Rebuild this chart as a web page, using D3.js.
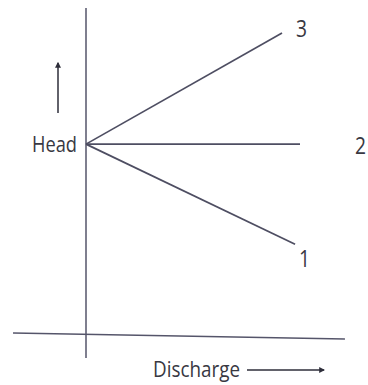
<!DOCTYPE html>
<html>
<head>
<meta charset="utf-8">
<script src="https://cdn.jsdelivr.net/npm/d3@7"></script>
<style>
  body { margin: 0; background: #fff; }
  text { font-family: "Open Sans", sans-serif; fill: #383842; }
</style>
</head>
<body>
<div id="chart"></div>
<script>
const width = 368, height = 385;

// characteristic curves (discharge, head), all starting at the shutoff head
const curveNames = ["1", "2", "3"];
const curveStart = [0, 5.85];
const curveEnds = [[9.77, 2.8], [10, 5.85], [9.16, 9.24]];

// axes drawn as lines (the x axis is a little tilted in the scan)
const xAxisPts = [[-3.41, 0.09], [12.1, -0.09]];
const yAxisPts = [[0, 10], [0, -0.67]];

const svg = d3.select("#chart")
    .append("svg")
    .attr("width", width)
    .attr("height", height);

let x = d3.scaleLinear().domain([0, 10]).range([86, 300]);
let y = d3.scaleLinear().domain([0, 10]).range([336, 8]);

let line = d3.line()
    .x(function(d) { return x(d[0]) })
    .y(function(d) { return y(d[1]) });

svg.append("defs").append("marker")
    .attr("id", "arrow")
    .attr("viewBox", "0 0 10 10")
    .attr("refX", 8)
    .attr("refY", 5)
    .attr("markerWidth", 4)
    .attr("markerHeight", 4)
    .attr("orient", "auto")
    .append("path")
    .attr("d", "M0,0 L10,5 L0,10 z")
    .attr("fill", "#2e2e3a");

// axes
svg.append("path").attr("d", line(xAxisPts))
    .attr("stroke", "#55556a").attr("stroke-width", 1.5).attr("fill", "none");
svg.append("path").attr("d", line(yAxisPts))
    .attr("stroke", "#55556a").attr("stroke-width", 1.5).attr("fill", "none");

// curves
svg.selectAll(".curve")
    .data(curveEnds)
    .enter()
    .append("path")
    .attr("class", "curve")
    .attr("d", function(d) { return line([curveStart, d]) })
    .attr("stroke", "#4e4e62")
    .attr("stroke-width", 1.7)
    .attr("fill", "none");

// curve labels
let labelPos = [[299, 267], [355, 154], [296, 37]];
svg.selectAll(".lbl")
    .data(curveNames)
    .enter()
    .append("text")
    .attr("class", "lbl")
    .attr("x", function(d, i) { return labelPos[i][0] })
    .attr("y", function(d, i) { return labelPos[i][1] })
    .attr("textLength", 11)
    .attr("lengthAdjust", "spacingAndGlyphs")
    .style("font-size", "23px")
    .text(function(d) { return d });

// axis titles
svg.append("text")
    .attr("x", 32).attr("y", y(curveStart[1]) + 8)
    .attr("textLength", 45)
    .attr("lengthAdjust", "spacingAndGlyphs")
    .style("font-size", "21px")
    .text("Head");

svg.append("text")
    .attr("x", 153).attr("y", 377)
    .attr("textLength", 87)
    .attr("lengthAdjust", "spacingAndGlyphs")
    .style("font-size", "21px")
    .text("Discharge");

// arrows next to titles
svg.append("line")
    .attr("x1", 58).attr("y1", 113).attr("x2", 58).attr("y2", 63)
    .attr("stroke", "#2e2e3a").attr("stroke-width", 1.5)
    .attr("marker-end", "url(#arrow)");
svg.append("line")
    .attr("x1", 247).attr("y1", 370).attr("x2", 324).attr("y2", 370)
    .attr("stroke", "#2e2e3a").attr("stroke-width", 1.5)
    .attr("marker-end", "url(#arrow)");
</script>
</body>
</html>
